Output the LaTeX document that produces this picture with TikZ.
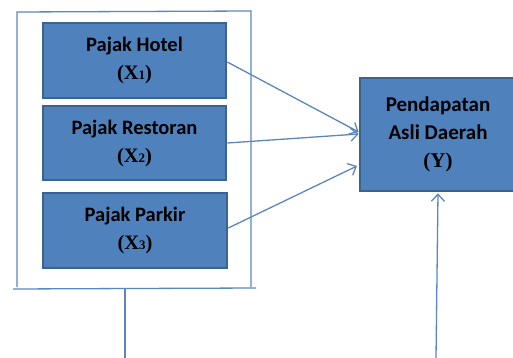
\documentclass[tikz,border=0pt]{standalone}
\usepackage{fontspec}
\setmainfont{Carlito}
\newfontfamily\serifx{Liberation Serif}
\usetikzlibrary{arrows.meta,calc}
\definecolor{boxfill}{HTML}{4F81BD}
\definecolor{boxline}{HTML}{3A6390}
\definecolor{linec}{HTML}{5B86BF}
\newcommand{\xv}[1]{{\serifx\bfseries (X{\fontsize{13}{13}\selectfont #1})}}
\begin{document}
\begin{tikzpicture}[x=1pt,y=-1pt,
  varbox/.style={draw=boxline, line width=2.6pt, fill=boxfill, align=center,
    font=\fontsize{20.5}{28}\selectfont\bfseries, text=black, inner sep=0pt},
  conn/.style={draw=linec, line width=1.3pt},
  arr/.style={conn, -{Straight Barb[length=7pt,width=13pt,line width=1.3pt]}}]
\useasboundingbox (0,0) rectangle (513,358);
\node[varbox, minimum width=183pt, minimum height=75pt] (x1) at (134.5,60.5) {Pajak Hotel\\\xv{1}};
\node[varbox, minimum width=183pt, minimum height=74pt] (x2) at (134.5,143) {Pajak Restoran\\\xv{2}};
\node[varbox, minimum width=184pt, minimum height=75pt] (x3) at (135,230.5) {Pajak Parkir\\\xv{3}};
\node[varbox, minimum width=156pt, minimum height=113pt,
  font=\fontsize{21}{28}\selectfont\bfseries] (y) at (438,134.5) {Pendapatan\\Asli Daerah\\{\serifx\bfseries (Y)}};
% frame
\coordinate (ftl) at (17,12);
\coordinate (ftr) at (251,11);
\coordinate (fbl) at (17,287);
\coordinate (fbr) at (251,287);
\coordinate (bl) at (13,289);
\coordinate (br) at (256,288);
\coordinate (stemtop) at (125,289);
\coordinate (stembot) at (125,358);
\coordinate (ybot) at (436,358);
\draw[conn] (fbl) -- (ftl) -- (ftr) -- (fbr);
\draw[conn] (bl) -- (br);
\draw[conn] (stemtop) -- (stembot);
% arrows
\coordinate (a3end) at (357,166);
\draw[arr] (x1.east |- 0,62) -- ($(y.west)+(0,-2.5)$);
\draw[arr] (x2.east) -- ($(y.west)+(0,-0.5)$);
\draw[arr] (x3.east |- 0,228) -- (a3end);
\draw[arr] (ybot) -- ($(y.south)+(0,1)$);
\end{tikzpicture}
\end{document}
